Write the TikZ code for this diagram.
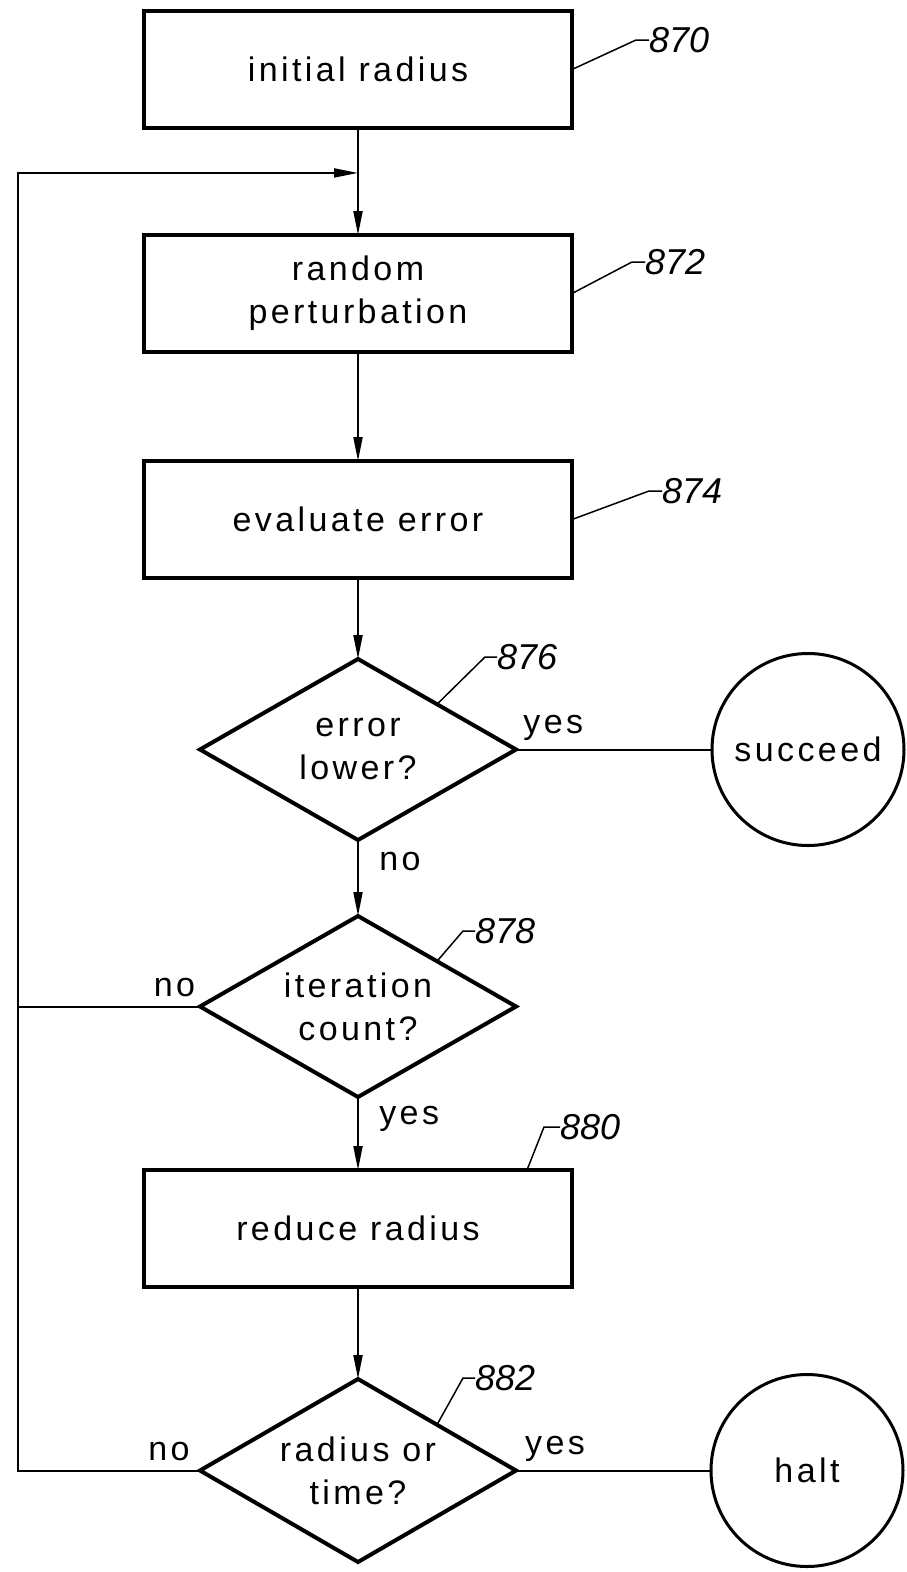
\documentclass[tikz,border=0pt]{standalone}
\usepackage{fontspec}
\setmainfont[LetterSpace=10]{Liberation Sans}
\newfontfamily\numfont{Liberation Sans}
\usepackage{tikz}
\usetikzlibrary{positioning, shapes.geometric, arrows.meta, calc}
\tikzset{process box/.style={rectangle, draw, line width=3.5pt, minimum width=428pt, minimum height=117pt, inner sep=0pt, outer sep=0pt, align=center},
decision/.style={diamond, draw, line width=4pt, aspect=1.75, minimum width=316pt, minimum height=181pt, inner sep=0pt, outer sep=0pt, align=center},
terminal/.style={circle, draw, line width=3pt, minimum size=192pt, inner sep=0pt, outer sep=0pt},
flow/.style={-{Triangle[length=24pt,width=9pt]}, line width=2pt},
leader/.style={line width=1.5pt},
ref num/.style={font=\fontsize{36}{40}\numfont\itshape, inner sep=0pt, anchor=west},}

\begin{document}
\begin{tikzpicture}[x=1pt, y=-1pt, font=\fontsize{34}{43}\selectfont]
        \useasboundingbox (0,0) rectangle (906,1572);
        % Steps
        \node[process box] (870) at (358,69.5) {initial radius};
        \node[process box] [below = 107pt of 870] (872) {random\\perturbation};
        \node[process box] [below = 109pt of 872] (874) {evaluate error};
        \node[decision] [below = 81pt of 874] (876) {error\\lower?};
        \node[decision] [below = 76pt of 876] (878) {iteration\\count?};
        \node[process box] [below = 73pt of 878] (880) {reduce radius};
        \node[decision, minimum height=183pt] [below = 92pt of 880] (882) {radius or\\time?};
        % Ends
        \node[terminal] [right = 196pt of 876] (succeed) {succeed};
        \node[terminal] [right = 195pt of 882] (halt) {halt};
        % Paths
        \path[flow]
        (870) edge (872)
        (872) edge (874)
        (874) edge (876)
        (876) edge node [pos=0.28, right=17pt] {no} (878)
        (878) edge node [pos=0.3, right=17pt] {yes} (880)
        (880) edge (882);
        \path[draw, line width=2pt]
        (876) edge node [pos=0.19, above=5pt] {yes} (succeed)
        (882) edge node [pos=0.2, above=5pt] {yes} (halt);
        % Loop back
        \coordinate (loop) at ($(870.south)!0.42!(872.north)$);
        \draw[flow] (882.west) -- node [pos=0.17, above=5pt] {no} ++(-182,0) coordinate (corner) |- (loop);
        \draw[line width=2pt] (878.west) -- node [pos=0.14, above=5pt] {no} (878.west -| corner);
        % Reference numbers
        \node[ref num] (n870) at (649,40) {870};
        \node[ref num] (n872) at (645,262) {872};
        \node[ref num] (n874) at (662,491) {874};
        \node[ref num] (n876) at (497,657) {876};
        \node[ref num] (n878) at (475,931) {878};
        \node[ref num] (n880) at (560,1127) {880};
        \node[ref num] (n882) at (475,1378) {882};
        \draw[leader] (870.east) -- ([xshift=-13pt]n870.west) -- (n870.west);
        \draw[leader] (872.east) -- ([xshift=-13pt]n872.west) -- (n872.west);
        \draw[leader] (874.east) -- ([xshift=-13pt]n874.west) -- (n874.west);
        \draw[leader] ($(876.north)!0.5!(876.east)$) -- ([xshift=-12pt]n876.west) -- (n876.west);
        \draw[leader] ($(878.north)!0.5!(878.east)$) -- ([xshift=-12pt]n878.west) -- (n878.west);
        \draw[leader] ([xshift=-45pt]880.north east) -- ([xshift=-16pt]n880.west) -- (n880.west);
        \draw[leader] ($(882.north)!0.5!(882.east)$) -- ([xshift=-12pt]n882.west) -- (n882.west);
    \end{tikzpicture}
\end{document}
